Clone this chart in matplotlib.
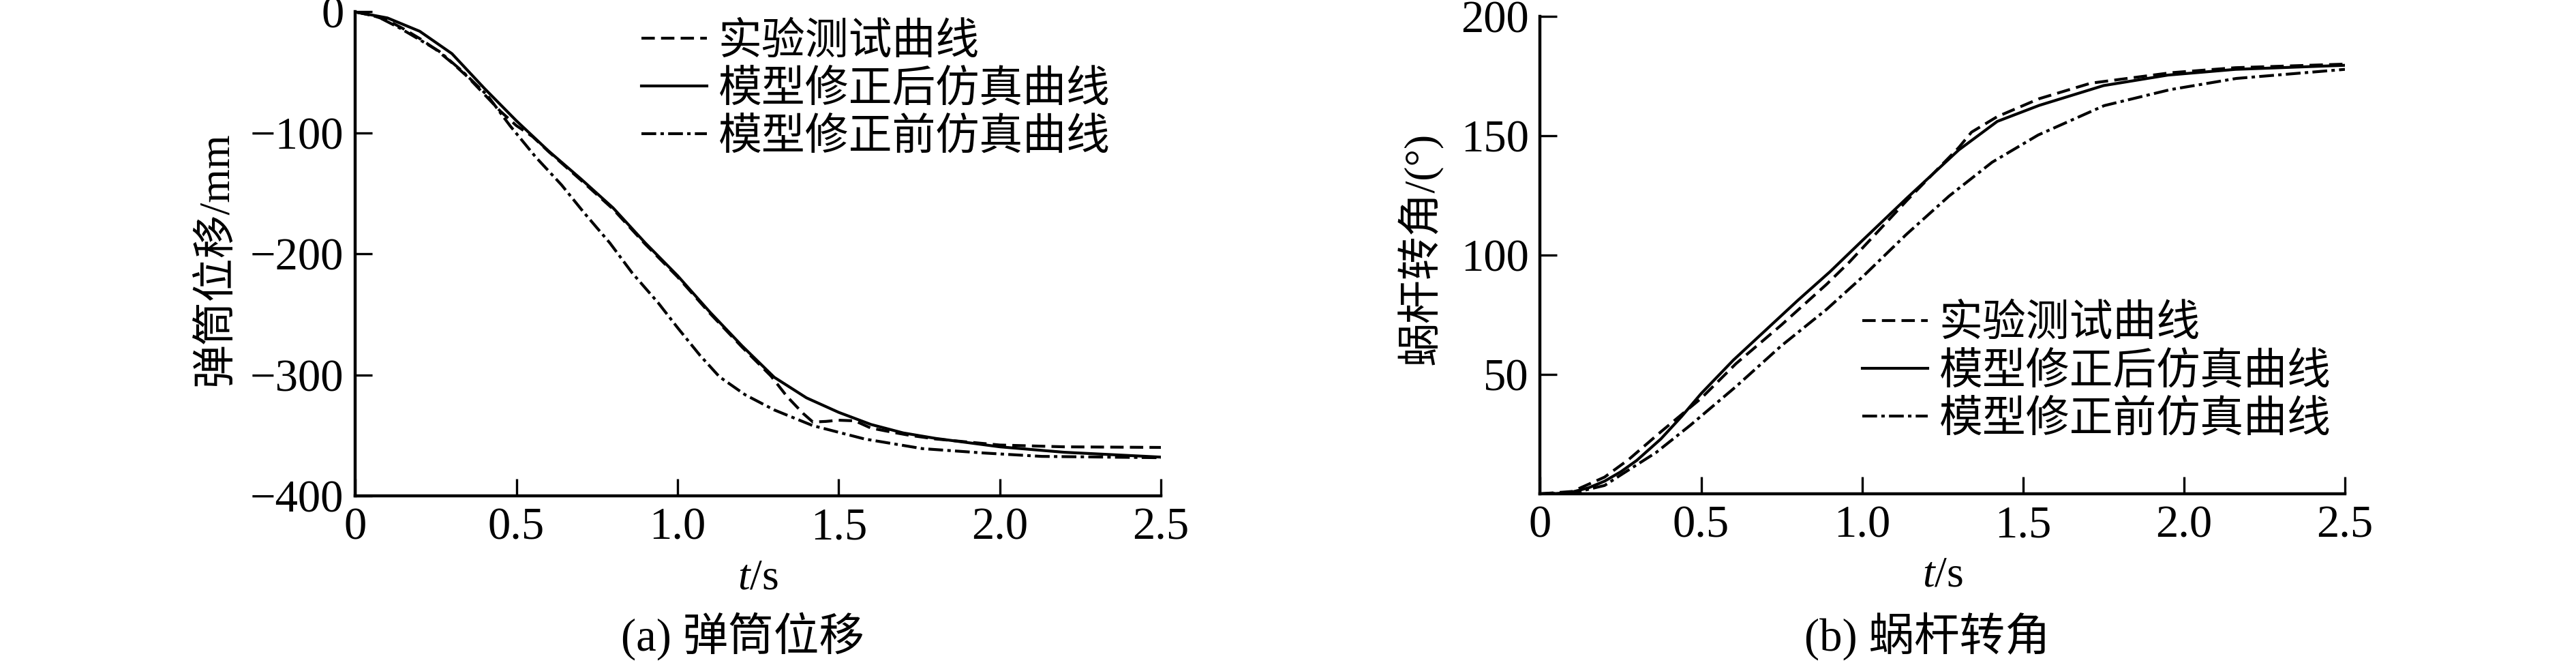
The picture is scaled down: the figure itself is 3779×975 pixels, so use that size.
import numpy as np
import matplotlib
matplotlib.use('Agg')
import matplotlib.pyplot as plt

plt.rcParams['font.family'] = ['Liberation Serif', 'Noto Sans CJK SC']
plt.rcParams['mathtext.fontset'] = 'custom'
plt.rcParams['mathtext.it'] = 'Liberation Serif:italic'
plt.rcParams['mathtext.rm'] = 'Liberation Serif'
plt.rcParams['axes.unicode_minus'] = True

# (a) 弹筒位移 / mm
a_test_t = [0, 0.05, 0.1, 0.15, 0.2, 0.25, 0.3, 0.35, 0.4, 0.45, 0.5, 0.55, 0.6, 0.7, 0.8, 0.9,
            1.0, 1.1, 1.2, 1.29, 1.34, 1.39, 1.42, 1.46, 1.5, 1.55, 1.6, 1.67, 1.72, 1.8, 1.9,
            2.0, 2.2, 2.5]
a_test_y = [0, -2.6, -7, -14, -22, -31, -42, -54, -68, -82, -94, -103, -115.5, -139, -163, -192,
            -219, -249, -277, -301, -318, -332, -339, -338.5, -337.5, -338, -344, -347.6, -350,
            -353, -355.5, -358, -359.5, -360]
a_after_t = [0, 0.1, 0.2, 0.3, 0.4, 0.5, 0.6, 0.7, 0.8, 0.9, 1.0, 1.1, 1.2, 1.3, 1.4, 1.5, 1.6,
             1.7, 1.8, 1.9, 2.0, 2.2, 2.5]
a_after_y = [0, -5, -16, -34.5, -63, -90, -115, -138, -162, -191, -218, -248, -276, -302, -319,
             -331, -341, -348, -352.5, -356, -359.5, -364, -368]
a_before_t = [0, 0.07, 0.14, 0.2, 0.26, 0.33, 0.41, 0.48, 0.56, 0.64, 0.71, 0.79, 0.86, 0.94,
              1.0, 1.07, 1.13, 1.21, 1.3, 1.42, 1.58, 1.76, 1.95, 2.13, 2.5]
a_before_y = [0, -4, -13.6, -23, -32.5, -48.5, -69, -94, -120, -143, -166, -191, -216, -240.5,
              -261, -284, -301.6, -316.5, -329, -342, -353, -361, -364.6, -367.4, -368.5]

# (b) 蜗杆转角 / (°)
b_test_t = [0, 0.1, 0.2, 0.276, 0.375, 0.5, 0.608, 0.749, 0.89, 0.96, 1.14, 1.3, 1.34, 1.42,
            1.55, 1.71, 1.96, 2.16, 2.5]
b_test_y = [0, 1, 7, 14.5, 26, 40, 54.5, 70.7, 87.8, 97, 123, 145, 151.5, 158, 165.5, 172,
            176.4, 178.5, 180]
b_after_t = [0, 0.05, 0.1, 0.15, 0.2, 0.25, 0.3, 0.375, 0.44, 0.5, 0.6, 0.7, 0.8, 0.9, 1.0,
             1.14, 1.3, 1.42, 1.55, 1.75, 1.95, 2.16, 2.5]
b_after_y = [0, 0.1, 0.8, 2.5, 5.3, 9.2, 14, 23, 32.5, 42, 56, 68.5, 81, 93, 106, 124, 144,
             156, 162.7, 171, 175.4, 177.8, 179.5]
b_before_t = [0, 0.1, 0.2, 0.255, 0.36, 0.467, 0.608, 0.749, 0.89, 1.0, 1.137, 1.27, 1.404,
              1.547, 1.752, 1.957, 2.163, 2.5]
b_before_y = [0, 0.3, 3.5, 8.3, 17.3, 28.8, 44.9, 62, 77.3, 90.7, 108.6, 124.7, 138.9, 150.3,
              162.6, 169.3, 174, 177.8]

labels = ['实验测试曲线', '模型修正后仿真曲线', '模型修正前仿真曲线']
x_ticks = [0, 0.5, 1.0, 1.5, 2.0, 2.5]
x_ticklabels = ['0', '0.5', '1.0', '1.5', '2.0', '2.5']
a_yticks = [0, -100, -200, -300, -400]
a_yticklabels = ['0', '\u2212100', '\u2212200', '\u2212300', '\u2212400']
b_yticks = [50, 100, 150, 200]
b_yticklabels = ['50', '100', '150', '200']

FS = 46
LW = 3.0
dash = (0, (4.7, 2.2))
dashdot = (0, (5.2, 1.5, 1.2, 1.5))

fig = plt.figure(figsize=(37.79, 9.75), dpi=100)
ax1 = fig.add_axes([0.1379, 0.2544, 0.3128, 0.7277])
ax2 = fig.add_axes([0.5979, 0.2574, 0.3124, 0.718])


def style_axes(ax):
    for s in ['top', 'right']:
        ax.spines[s].set_visible(False)
    for s in ['left', 'bottom']:
        ax.spines[s].set_linewidth(3.2)
    ax.tick_params(direction='in', length=18, width=2.4, labelsize=48, pad=12)
    ax.set_xlim(0, 2.5)
    ax.set_xticks(x_ticks)
    ax.set_xticklabels(x_ticklabels)
    ax.set_xlabel('$t$/s', fontsize=FS)
    ax.xaxis.set_label_coords(0.5, -0.172)
    ax.xaxis.label.set_va('center')


for ax, data in [(ax1, (a_test_t, a_test_y, a_after_t, a_after_y, a_before_t, a_before_y)),
                 (ax2, (b_test_t, b_test_y, b_after_t, b_after_y, b_before_t, b_before_y))]:
    ax.plot(data[0], data[1], color='black', lw=LW, linestyle=dash, label=labels[0])
    ax.plot(data[2], data[3], color='black', lw=LW, linestyle='-', label=labels[1])
    ax.plot(data[4], data[5], color='black', lw=LW, linestyle=dashdot, label=labels[2])
    style_axes(ax)

ax1.set_ylim(-400, 0)
ax1.set_yticks(a_yticks)
ax1.set_yticklabels(a_yticklabels)
ax1.set_ylabel('弹筒位移/mm', fontsize=FS)
ax1.yaxis.set_label_coords(-0.172, 0.49)
ax1.yaxis.label.set_va('center')

ax2.set_ylim(0, 200)
ax2.set_yticks(b_yticks)
ax2.set_yticklabels(b_yticklabels)
ax2.set_ylabel('蜗杆转角/(°)', fontsize=FS)
ax2.yaxis.set_label_coords(-0.149, 0.514)
ax2.yaxis.label.set_va('center')

leg_kw = dict(loc='upper left', frameon=False, fontsize=FS, handlelength=1.5,
              handletextpad=0.27, labelspacing=0.17, borderpad=0, borderaxespad=0)
ax1.legend(bbox_to_anchor=(0.355, 0.978), **leg_kw)
ax2.legend(bbox_to_anchor=(0.40, 0.396), **leg_kw)

fig.text(0.2884, 0.0431, '(a) 弹筒位移', fontsize=48, ha='center', va='center')
fig.text(0.7483, 0.0431, '(b) 蜗杆转角', fontsize=48, ha='center', va='center')

fig.savefig('out.png', dpi=100)
